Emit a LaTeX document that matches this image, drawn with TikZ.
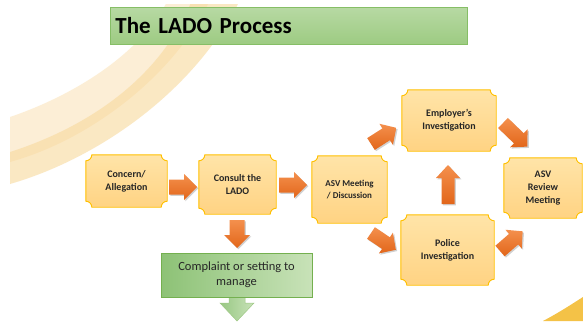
\documentclass[tikz,border=0pt]{standalone}
\usepackage{fontspec}
\setmainfont{Carlito}
\usetikzlibrary{calc}
\pgfdeclarelayer{deco}
\pgfdeclarelayer{background}
\pgfsetlayers{deco,background,main}

\definecolor{plaqueTop}{HTML}{FFE4A8}
\definecolor{plaqueBot}{HTML}{FFD383}
\definecolor{plaqueLine}{HTML}{FFC000}
\definecolor{arrTop}{HTML}{F4904D}
\definecolor{arrBot}{HTML}{E2661A}
\definecolor{titleTop}{HTML}{B7D9A3}
\definecolor{titleBot}{HTML}{9DCB82}
\definecolor{titleLine}{HTML}{86BE66}
\definecolor{greenL}{HTML}{8DC276}
\definecolor{greenR}{HTML}{C8E2B8}
\definecolor{greenLine}{HTML}{74B04F}
\definecolor{bandLight}{HTML}{FCEDD2}
\definecolor{bandDark}{HTML}{F8D99C}
\definecolor{cornerYellow}{HTML}{F4C247}

\tikzset{
  box/.style={inner sep=0pt, align=center, text=black!85,
    font=\bfseries\fontsize{10}{13}\selectfont},
  plaquefill/.style={top color=plaqueTop, bottom color=plaqueBot,
    draw=plaqueLine, line width=0.9pt},
  arrowshade/.style={top color=arrTop, bottom color=arrBot},
  arrowshadow/.style={fill=black, opacity=0.18},
}

\newcommand\plaque[1]{%
  \begin{pgfonlayer}{background}
  \path[plaquefill] let \p1=(#1.north west), \p2=(#1.south east), \n1={6pt} in
    (\x1+\n1,\y1) -- (\x2-\n1,\y1)
      .. controls (\x2-\n1,\y1-0.55*\n1) and (\x2-0.55*\n1,\y1-\n1) .. (\x2,\y1-\n1)
    -- (\x2,\y2+\n1)
      .. controls (\x2-0.55*\n1,\y2+\n1) and (\x2-\n1,\y2+0.55*\n1) .. (\x2-\n1,\y2)
    -- (\x1+\n1,\y2)
      .. controls (\x1+\n1,\y2+0.55*\n1) and (\x1+0.55*\n1,\y2+\n1) .. (\x1,\y2+\n1)
    -- (\x1,\y1-\n1)
      .. controls (\x1+0.55*\n1,\y1-\n1) and (\x1+\n1,\y1-0.55*\n1) .. (\x1+\n1,\y1)
    -- cycle;
  \end{pgfonlayer}}

% start, angle, length, shaft half width, head half width, head length
\newcommand\barrow[6]{%
  \begin{scope}[shift={#1}, xshift=1.3pt, yshift=-1.3pt, rotate=#2]
    \fill[arrowshadow] (0,-#4) -- ({#3-#6},-#4) -- ({#3-#6},-#5) -- (#3,0)
      -- ({#3-#6},#5) -- ({#3-#6},#4) -- (0,#4) -- cycle;
  \end{scope}
  \begin{scope}[shift={#1}, rotate=#2]
    \shade[arrowshade] (0,-#4) -- ({#3-#6},-#4) -- ({#3-#6},-#5) -- (#3,0)
      -- ({#3-#6},#5) -- ({#3-#6},#4) -- (0,#4) -- cycle;
  \end{scope}}

\begin{document}
\begin{tikzpicture}[x=1pt, y=-1pt]
\useasboundingbox (0,0) rectangle (583,321);

% decorative background bands
\begin{pgfonlayer}{deco}
\fill[white] (0,0) rectangle (583,321);
\begin{scope}
  \clip (10,5) rectangle (583,321);
  \fill[bandLight, opacity=0.9] (10,117) .. controls (72,96) and (140,55) .. (168,0)
    -- (210,0) .. controls (175,75) and (90,140) .. (10,162) -- cycle;
  \fill[bandDark, opacity=0.6] (10,152) .. controls (85,128) and (160,80) .. (192,0)
    -- (240,0) .. controls (195,90) and (100,158) .. (10,184) -- cycle;
\end{scope}
\fill[cornerYellow] (543,321) .. controls (560,312) and (572,304) .. (583,297) -- (583,321) -- cycle;
\end{pgfonlayer}

% title
\node[draw=titleLine, line width=0.8pt, top color=titleTop, bottom color=titleBot,
  anchor=north west, minimum width=357pt, minimum height=37pt, inner xsep=5pt,
  text width=347pt, align=left, font=\bfseries\fontsize{23}{26}\selectfont]
  (title) at (110,7) {The LADO Process};

% process boxes
\node[box, minimum width=81pt, minimum height=52pt] (concern) at (126.5,181) {Concern/\\Allegation};
\node[box, minimum width=77pt, minimum height=59pt] (consult) at (237.5,184.5) {Consult the\\LADO};
\node[box, minimum width=75pt, minimum height=67pt, font=\bfseries\fontsize{9}{12}\selectfont] (asv) at (349.5,189.5) {ASV Meeting\\/ Discussion};
\node[box, minimum width=94pt, minimum height=61pt] (employer) at (449,120.5) {Employer's\\Investigation};
\node[box, minimum width=93pt, minimum height=70pt] (police) at (447.5,250) {Police\\Investigation};
\node[box, minimum width=78pt, minimum height=60pt] (review) at (543,188) {ASV\\Review\\Meeting};

\plaque{concern}
\plaque{consult}
\plaque{asv}
\plaque{employer}
\plaque{police}
\plaque{review}

% green down arrow and box
\begin{pgfonlayer}{background}
\shade[left color=greenL!90, right color=greenR, draw=greenLine!70, line width=0.5pt]
  (229,290) -- (245,290) -- (245,303) -- (254,303) -- (237,321) -- (220,303) -- (229,303) -- cycle;
\end{pgfonlayer}
\node[draw=greenLine, line width=0.8pt, left color=greenL, right color=greenR,
  minimum width=151pt, minimum height=44pt, inner sep=0pt, align=center,
  font=\fontsize{12.5}{15}\selectfont, text=black!85]
  (complaint) at (236.5,275) {Complaint or setting to\\manage};

% orange block arrows
\barrow{(169,187)}{0}{28}{7.5}{13}{13}
\barrow{(279,185)}{0}{28}{7.5}{13}{13}
\barrow{(237,220)}{-90}{28}{7.5}{13}{13}
\barrow{(371,144)}{32.6}{30}{7}{12.5}{12}
\barrow{(371,233)}{-34}{30}{7}{12.5}{12}
\barrow{(448,204)}{90}{39}{6.5}{12}{13}
\barrow{(503,123)}{-44}{34}{7}{12.5}{12}
\barrow{(500,251)}{41}{30}{7}{12.5}{12}
\end{tikzpicture}
\end{document}
